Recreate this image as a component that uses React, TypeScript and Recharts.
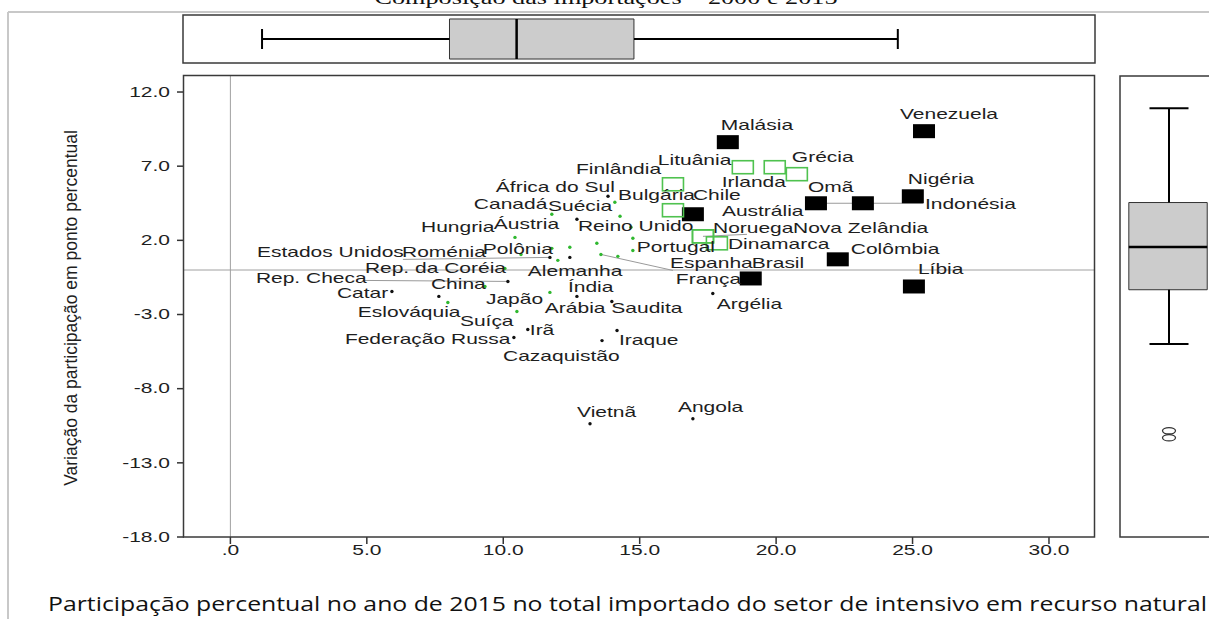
import {
  ScatterChart,
  Scatter,
  XAxis,
  YAxis,
  ReferenceLine,
  ReferenceArea,
} from "recharts";

const FONT = "'Liberation Sans', Arial, sans-serif";
const X_DOMAIN: [number, number] = [-1.7, 31.65];
const Y_DOMAIN: [number, number] = [-18, 13.08];
const X_TICKS = [0, 5, 10, 15, 20, 25, 30];
const Y_TICKS = [12, 7, 2, -3, -8, -13, -18];

// grupo 1: quadrados pretos
const blackSquares = [
  { name: "Malásia", x: 18.23, y: 8.62 },
  { name: "Venezuela", x: 25.42, y: 9.36 },
  { name: "Austrália", x: 16.95, y: 3.76 },
  { name: "Indonésia", x: 21.46, y: 4.5 },
  { name: "Omã", x: 23.18, y: 4.5 },
  { name: "Nigéria", x: 25.01, y: 4.97 },
  { name: "Colômbia", x: 22.26, y: 0.72 },
  { name: "Brasil", x: 19.07, y: -0.57 },
  { name: "Líbia", x: 25.05, y: -1.11 },
];

// grupo 2: quadrados verdes
const greenSquares = [
  { name: "Finlândia", x: 16.22, y: 5.78 },
  { name: "Chile", x: 16.22, y: 4.03 },
  { name: "Lituânia", x: 18.78, y: 6.93 },
  { name: "Irlanda", x: 19.95, y: 6.93 },
  { name: "Grécia", x: 20.76, y: 6.46 },
  { name: "Noruega", x: 17.32, y: 2.27 },
  { name: "Nova Zelândia", x: 17.32, y: 2.27 },
  { name: "Dinamarca", x: 17.83, y: 1.8 },
];

// grupo 3: pontos pretos
const blackDots = [
  { name: "Bulgária", x: 13.84, y: 4.97 },
  { name: "Reino Unido", x: 12.7, y: 3.42 },
  { name: "Estados Unidos", x: 11.71, y: 0.85 },
  { name: "Alemanha", x: 12.44, y: 0.85 },
  { name: "Rep. Checa", x: 10.17, y: -0.77 },
  { name: "Catar", x: 5.92, y: -1.45 },
  { name: "", x: 7.64, y: -1.78 },
  { name: "Índia", x: 12.7, y: -1.78 },
  { name: "Arábia Saudita", x: 13.98, y: -2.12 },
  { name: "Argélia", x: 17.68, y: -1.58 },
  { name: "Irã", x: 10.9, y: -4.01 },
  { name: "Iraque", x: 14.17, y: -4.08 },
  { name: "Federação Russa", x: 10.39, y: -4.55 },
  { name: "Cazaquistão", x: 13.62, y: -4.76 },
  { name: "Vietnã", x: 13.18, y: -10.36 },
  { name: "Angola", x: 16.95, y: -10.03 },
];

// grupo 4: pontos verdes
const greenDots = [
  { name: "África do Sul", x: 14.09, y: 4.57 },
  { name: "Canadá", x: 11.78, y: 3.76 },
  { name: "Suécia", x: 14.28, y: 3.62 },
  { name: "", x: 14.68, y: 2.88 },
  { name: "Hungria", x: 10.43, y: 2.2 },
  { name: "", x: 14.75, y: 2.14 },
  { name: "Áustria", x: 13.43, y: 1.8 },
  { name: "Polônia", x: 11.78, y: 1.46 },
  { name: "", x: 12.44, y: 1.53 },
  { name: "Portugal", x: 14.75, y: 1.32 },
  { name: "Roménia", x: 10.65, y: 1.05 },
  { name: "Espanha", x: 13.58, y: 1.05 },
  { name: "França", x: 14.2, y: 0.92 },
  { name: "", x: 12.0, y: 0.65 },
  { name: "Rep. da Coréia", x: 10.06, y: 0.11 },
  { name: "China", x: 9.33, y: -1.11 },
  { name: "Eslováquia", x: 7.97, y: -2.19 },
  { name: "Japão", x: 11.71, y: -1.51 },
  { name: "Suíça", x: 10.5, y: -2.8 },
];

// boxplots: [min, Q1, mediana, Q3, max]
const xBox = [1.16, 8.03, 10.49, 14.79, 24.46];
const yBox = [-4.98, -1.33, 1.55, 4.55, 10.9];
const yOutliers = [-10.84, -11.31];

const allPoints = [...blackSquares, ...greenSquares, ...blackDots, ...greenDots].filter(
  (p) => p.name !== ""
);

// posição dos rótulos em px, relativa ao ponto
const LABEL_OFFSET: Record<string, [number, number]> = {
  "Malásia": [-7, -17], "Venezuela": [-24, -17], "Austrália": [29, -3],
  "Indonésia": [109, 1], "Omã": [-55, -16], "Nigéria": [-5, -17],
  "Colômbia": [13, -10], "Brasil": [1, -15], "Líbia": [4, -17],
  "Finlândia": [-97, -15], "Chile": [20, -15], "Lituânia": [-85, -7],
  "Irlanda": [-53, 15], "Grécia": [-5, -17], "Noruega": [10, -8],
  "Nova Zelândia": [90, -8], "Dinamarca": [11, 1],
  "Bulgária": [10, -1], "Reino Unido": [1, 7], "Estados Unidos": [-293, -5],
  "Alemanha": [-42, 14], "Rep. Checa": [-252, -3], "Catar": [-55, 2],
  "Índia": [-9, -9], "Arábia Saudita": [-67, 7], "Argélia": [4, 11],
  "Irã": [2, 1], "Iraque": [2, 10], "Federação Russa": [-169, 2],
  "Cazaquistão": [-99, 16], "Vietnã": [-13, -11], "Angola": [-15, -11],
  "África do Sul": [-119, -15], "Canadá": [-78, -10], "Suécia": [-72, -10],
  "Hungria": [-94, -10], "Áustria": [-103, -19], "Polônia": [-69, 1],
  "Portugal": [4, -3], "Roménia": [-119, -2], "Espanha": [69, 9],
  "França": [58, 23], "Rep. da Coréia": [-140, 0], "China": [-54, -2],
  "Eslováquia": [-90, 10], "Japão": [-64, 7], "Suíça": [-57, 10],
};

const LEADER: Record<string, [number, number]> = {
  "Estados Unidos": [-147, 2],
  "Rep. Checa": [-145, -1],
  "Espanha": [72, 16],
  "Indonésia": [107, 0],
  "Nova Zelândia": [44, -2],
};

const WideText = ({ x, y, children, anchor = "start", size = 14 }: any) => (
  <text
    transform={`translate(${x} ${y}) scale(1.5 1)`}
    textAnchor={anchor}
    dominantBaseline="central"
    fontFamily={FONT}
    fontSize={size}
    fill="#1e1e1e"
  >
    {children}
  </text>
);

const fmt = (v: number) => (v === 0 ? ".0" : v.toFixed(1));

const XTick = ({ x, payload }: any) => (
  <g>
    <WideText x={x} y={550} anchor="middle">{fmt(payload.value)}</WideText>
  </g>
);

const YTick = ({ y, payload }: any) => (
  <g>
    <WideText x={170} y={y} anchor="end">{fmt(payload.value)}</WideText>
  </g>
);

const blackSquare = ({ cx, cy }: any) => (
  <rect x={cx - 11} y={cy - 7} width={22} height={14} fill="#000" />
);
const greenSquare = ({ cx, cy }: any) => (
  <rect x={cx - 10.5} y={cy - 6.5} width={21} height={13} fill="none" stroke="#4fc24f" strokeWidth={1.6} />
);
const blackDot = ({ cx, cy }: any) => <circle cx={cx} cy={cy} r={1.7} fill="#111" />;
const greenDot = ({ cx, cy }: any) => <circle cx={cx} cy={cy} r={1.7} fill="#2fb82f" />;

const leaderShape = ({ cx, cy, payload }: any) => {
  const l = LEADER[payload.name];
  if (!l) return <g />;
  return <line x1={cx} y1={cy} x2={cx + l[0]} y2={cy + l[1]} stroke="#9a9a9a" strokeWidth={1} />;
};

const labelShape = ({ cx, cy, payload }: any) => {
  const o = LABEL_OFFSET[payload.name] || [4, -8];
  return <WideText x={cx + o[0]} y={cy + o[1]}>{payload.name}</WideText>;
};

const vCap = ({ cx, cy }: any) => (
  <line x1={cx} y1={cy - 10} x2={cx} y2={cy + 10} stroke="#000" strokeWidth={2} />
);
const hCap = ({ cx, cy }: any) => (
  <line x1={cx - 19.5} y1={cy} x2={cx + 19.5} y2={cy} stroke="#000" strokeWidth={2} />
);
const outlier = ({ cx, cy }: any) => (
  <ellipse cx={cx} cy={cy} rx={6.5} ry={3.2} fill="none" stroke="#333" strokeWidth={1.3} />
);

export default function App() {
  return (
    <div
      style={{
        position: "absolute",
        left: 0,
        top: 0,
        width: 1209,
        height: 619,
        overflow: "hidden",
        background: "#fff",
      }}
    >
      {/* boxplot superior */}
      <div style={{ position: "absolute", left: 0, top: 0 }}>
        <ScatterChart width={1209} height={70} margin={{ top: 15, right: 115, bottom: 7, left: 184 }}>
          <XAxis type="number" dataKey="x" domain={X_DOMAIN} hide />
          <YAxis type="number" dataKey="y" domain={[0, 1]} hide />
          <ReferenceLine segment={[{ x: xBox[0], y: 0.5 }, { x: xBox[1], y: 0.5 }]} stroke="#000" strokeWidth={2} />
          <ReferenceLine segment={[{ x: xBox[3], y: 0.5 }, { x: xBox[4], y: 0.5 }]} stroke="#000" strokeWidth={2} />
          <ReferenceArea x1={xBox[1]} x2={xBox[3]} y1={0.083} y2={0.917} fill="#cccccc" fillOpacity={1} stroke="#333" strokeWidth={1} />
          <ReferenceLine segment={[{ x: xBox[2], y: 0.083 }, { x: xBox[2], y: 0.917 }]} stroke="#000" strokeWidth={2.5} />
          <Scatter data={[{ x: xBox[0], y: 0.5 }, { x: xBox[4], y: 0.5 }]} shape={vCap} isAnimationActive={false} />
        </ScatterChart>
      </div>

      {/* dispersão principal */}
      <div style={{ position: "absolute", left: 0, top: 0 }}>
        <ScatterChart width={1209} height={619} margin={{ top: 76, right: 115, bottom: 52, left: 124 }}>
          <XAxis
            type="number"
            dataKey="x"
            domain={X_DOMAIN}
            ticks={X_TICKS}
            tick={<XTick />}
            tickSize={7}
            axisLine={false}
            tickLine={{ stroke: "#333", strokeWidth: 1.5 }}
            height={30}
            allowDataOverflow
          />
          <YAxis
            type="number"
            dataKey="y"
            domain={Y_DOMAIN}
            ticks={Y_TICKS}
            tick={<YTick />}
            tickSize={7}
            axisLine={false}
            tickLine={{ stroke: "#333", strokeWidth: 1.5 }}
            width={60}
            allowDataOverflow
          />
          <ReferenceLine x={0} stroke="#a0a0a0" strokeWidth={1} />
          <ReferenceLine y={0} stroke="#a0a0a0" strokeWidth={1} />
          <Scatter data={allPoints} shape={leaderShape} isAnimationActive={false} />
          <Scatter data={blackSquares} shape={blackSquare} isAnimationActive={false} />
          <Scatter data={greenSquares} shape={greenSquare} isAnimationActive={false} />
          <Scatter data={blackDots} shape={blackDot} isAnimationActive={false} />
          <Scatter data={greenDots} shape={greenDot} isAnimationActive={false} />
          <Scatter data={allPoints} shape={labelShape} isAnimationActive={false} />
        </ScatterChart>
      </div>

      {/* boxplot lateral */}
      <div style={{ position: "absolute", left: 1100, top: 0 }}>
        <ScatterChart width={140} height={619} margin={{ top: 76, right: 22, bottom: 82, left: 20 }}>
          <XAxis type="number" dataKey="x" domain={[0, 1]} hide />
          <YAxis type="number" dataKey="y" domain={Y_DOMAIN} hide />
          <ReferenceLine segment={[{ x: 0.5, y: yBox[0] }, { x: 0.5, y: yBox[1] }]} stroke="#000" strokeWidth={2} />
          <ReferenceLine segment={[{ x: 0.5, y: yBox[3] }, { x: 0.5, y: yBox[4] }]} stroke="#000" strokeWidth={2} />
          <ReferenceArea x1={0.09} x2={0.89} y1={yBox[1]} y2={yBox[3]} fill="#cccccc" fillOpacity={1} stroke="#333" strokeWidth={1} />
          <ReferenceLine segment={[{ x: 0.09, y: yBox[2] }, { x: 0.89, y: yBox[2] }]} stroke="#000" strokeWidth={2.5} />
          <Scatter data={[{ x: 0.5, y: yBox[0] }, { x: 0.5, y: yBox[4] }]} shape={hCap} isAnimationActive={false} />
          <Scatter data={yOutliers.map((y) => ({ x: 0.5, y }))} shape={outlier} isAnimationActive={false} />
        </ScatterChart>
      </div>

      {/* molduras e títulos */}
      <svg
        width={1209}
        height={619}
        style={{ position: "absolute", left: 0, top: 0, pointerEvents: "none" }}
      >
        <line x1={8} y1={12} x2={1209} y2={12} stroke="#c8c8c8" strokeWidth={2} />
        <line x1={8} y1={12} x2={8} y2={619} stroke="#c8c8c8" strokeWidth={2} />
        <text
          x={606}
          y={4}
          textAnchor="middle"
          fontFamily="'Liberation Serif', 'Times New Roman', serif"
          fontSize={19}
          textLength={463}
          lengthAdjust="spacingAndGlyphs"
          fill="#111"
        >
          Composição das importações – 2000 e 2015
        </text>
        <rect x={183} y={15} width={912} height={48} fill="none" stroke="#3a3a3a" strokeWidth={1.5} />
        <rect x={183.5} y={75.5} width={911} height={461.5} fill="none" stroke="#3a3a3a" strokeWidth={1.5} />
        <rect x={1120} y={76} width={130} height={461} fill="none" stroke="#3a3a3a" strokeWidth={1.5} />
        <text
          transform="translate(71 308) rotate(-90)"
          textAnchor="middle"
          dominantBaseline="central"
          fontFamily={FONT}
          fontSize={17.5}
          fill="#1e1e1e"
        >
          Variação da participação em ponto percentual
        </text>
        <text
          x={48}
          y={611}
          fontFamily="'Open Sans', sans-serif"
          fontSize={19.5}
          textLength={1159}
          lengthAdjust="spacingAndGlyphs"
          fill="#111"
        >
          Participação percentual no ano de 2015 no total importado do setor de intensivo em recurso natural
        </text>
      </svg>
    </div>
  );
}
